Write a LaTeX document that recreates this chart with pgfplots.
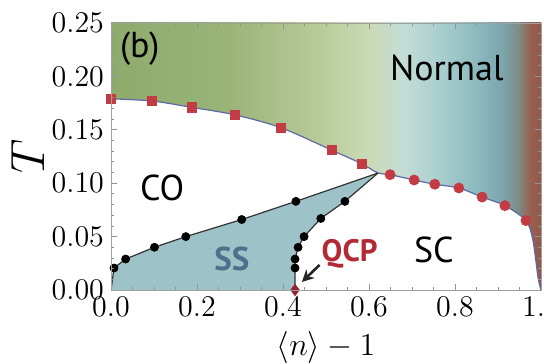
\RequirePackage{fix-cm}
\documentclass[border=0pt]{standalone}
\usepackage{fontspec}
\newfontfamily\labfont{PT Sans}
\usepackage{pgfplots}
\pgfplotsset{compat=1.18}
\usetikzlibrary{arrows.meta,calc}
\definecolor{redm}{HTML}{C33B43}
\definecolor{qcpred}{HTML}{B12A36}
\definecolor{ssfill}{HTML}{9DC2C7}
\definecolor{sstext}{HTML}{4F6F8C}
\definecolor{tcline}{HTML}{5B6AA5}
\definecolor{g0}{HTML}{8DAB6C}
\definecolor{g1}{HTML}{9AB478}
\definecolor{g2}{HTML}{B8CA98}
\definecolor{g3}{HTML}{CADAB6}
\definecolor{g4}{HTML}{C4DDD6}
\definecolor{g5}{HTML}{A8CDCD}
\definecolor{g6}{HTML}{88B7BD}
\definecolor{g7}{HTML}{7AA6AC}
\definecolor{g8}{HTML}{7F8C86}
\definecolor{g9}{HTML}{985F4F}
\definecolor{g10}{HTML}{94584A}
\pgfdeclarehorizontalshading{normalbg}{100bp}{color(0bp)=(g0); color(25bp)=(g0); color(38.5bp)=(g1); color(49bp)=(g2); color(55bp)=(g3); color(59bp)=(g4); color(63.5bp)=(g5); color(68bp)=(g6); color(70.5bp)=(g7); color(72.3bp)=(g8); color(73.8bp)=(g9); color(75bp)=(g10); color(100bp)=(g10)}
\begin{document}
\begin{tikzpicture}
\begin{axis}[
  width=215pt, height=133.5pt, scale only axis,
  xmin=0, xmax=1, ymin=0, ymax=0.25,
  xtick={0,0.2,0.4,0.6,0.8,1.0},
  ytick={0,0.05,0.10,0.15,0.20,0.25},
  minor x tick num=3, minor y tick num=4,
  tick align=inside,
  axis line style={gray!75},
  every tick/.style={gray!85},
  major tick length=3pt, minor tick length=1.7pt,
  tick label style={font=\fontsize{15}{18}\selectfont},
  xticklabel style={/pgf/number format/.cd,fixed,fixed zerofill,precision=1},
  yticklabel style={/pgf/number format/.cd,fixed,fixed zerofill,precision=2},
  xlabel={$\langle n\rangle - 1$},
  ylabel={$T$},
  every axis x label/.style={at={(axis description cs:0.5,-0.2135)}, anchor=center, font=\fontsize{16}{19}\selectfont},
  every axis y label/.style={at={(axis description cs:-0.193,0.5)}, anchor=center, rotate=90, font=\fontsize{24}{28}\selectfont},
  axis on top,
  clip mode=individual,
]
% background gradient (Normal region)
\addplot[draw=none, shading=normalbg] coordinates {(0,0.25) (1,0.25)} \closedcycle;
% white region under Tc
\addplot[draw=none, fill=white, smooth] coordinates {
 (0,0.179) (0.095,0.177) (0.188,0.171) (0.288,0.164) (0.395,0.152) (0.513,0.131) (0.584,0.118)
 (0.621,0.1095) (0.649,0.108) (0.705,0.103) (0.753,0.099) (0.809,0.0955) (0.863,0.087) (0.916,0.079) (0.965,0.065)
 (0.981,0.047) (0.993,0.012) (1.0,0)} \closedcycle;
% SS region
\addplot[draw=none, fill=ssfill] coordinates {
 (0,0) (0.007,0.0206) (0.034,0.029) (0.101,0.040) (0.174,0.050) (0.304,0.066) (0.430,0.083)
 (0.621,0.1095) (0.544,0.083) (0.488,0.067) (0.449,0.050) (0.435,0.040) (0.428,0.029) (0.428,0.0206) (0.428,0)} -- cycle;
% Tc line
\addplot[tcline, line width=0.6pt, smooth] coordinates {
 (0,0.179) (0.095,0.177) (0.188,0.171) (0.288,0.164) (0.395,0.152) (0.513,0.131) (0.584,0.118)
 (0.621,0.1095) (0.649,0.108) (0.705,0.103) (0.753,0.099) (0.809,0.0955) (0.863,0.087) (0.916,0.079) (0.965,0.065)
 (0.981,0.047) (0.993,0.012) (1.0,0)};
% SS boundaries
\addplot[black!80, line width=0.6pt] coordinates {
 (0,0) (0.007,0.0206) (0.034,0.029) (0.101,0.040) (0.174,0.050) (0.304,0.066) (0.430,0.083) (0.621,0.1095)};
\addplot[black!80, line width=0.6pt] coordinates {
 (0.621,0.1095) (0.544,0.083) (0.488,0.067) (0.449,0.050) (0.435,0.040) (0.428,0.029) (0.428,0.0206) (0.428,0)};
% markers
\addplot[only marks, mark=square*, mark size=2.3pt, color=redm] coordinates {
 (0,0.179) (0.095,0.177) (0.188,0.171) (0.288,0.164) (0.395,0.152) (0.513,0.131) (0.584,0.118)};
\addplot[only marks, mark=*, mark size=2.5pt, color=redm] coordinates {
 (0.649,0.108) (0.705,0.103) (0.753,0.099) (0.809,0.0955) (0.863,0.087) (0.916,0.079) (0.965,0.065)};
\addplot[only marks, mark=*, mark size=2pt, color=black] coordinates {
 (0.007,0.0206) (0.034,0.029) (0.101,0.040) (0.174,0.050) (0.304,0.066) (0.430,0.083)
 (0.544,0.083) (0.488,0.067) (0.449,0.050) (0.435,0.040) (0.428,0.029) (0.428,0.0206)};
\addplot[only marks, mark=diamond*, mark size=2.8pt, color=qcpred!85!black] coordinates {(0.428,0)};
% labels
\node[font=\labfont\fontsize{18}{20}\selectfont] at (axis cs:0.067,0.2257) {(b)};
\node[font=\labfont\fontsize{18}{20}\selectfont] at (axis cs:0.781,0.208) {Normal};
\node[font=\labfont\fontsize{18}{20}\selectfont] at (axis cs:0.119,0.0955) {CO};
\node[font=\labfont\fontsize{18}{20}\selectfont] at (axis cs:0.751,0.0375) {SC};
\node[font=\labfont\bfseries\fontsize{16.5}{19}\selectfont, text=sstext] at (axis cs:0.281,0.029) {SS};
\node[font=\labfont\bfseries\fontsize{15.5}{18}\selectfont, text=qcpred] at (axis cs:0.555,0.0337) {QCP};
\draw[black!85, line width=1.3pt, -{Stealth[length=6pt,width=6pt]}] (axis cs:0.485,0.0235) -- (axis cs:0.444,0.0075);
\end{axis}
\pgfresetboundingbox
\path ($(current axis.south west)+(-55.5pt,-36.5pt)$) rectangle ($(current axis.north east)+(1.5pt,11.5pt)$);
\end{tikzpicture}
\end{document}
